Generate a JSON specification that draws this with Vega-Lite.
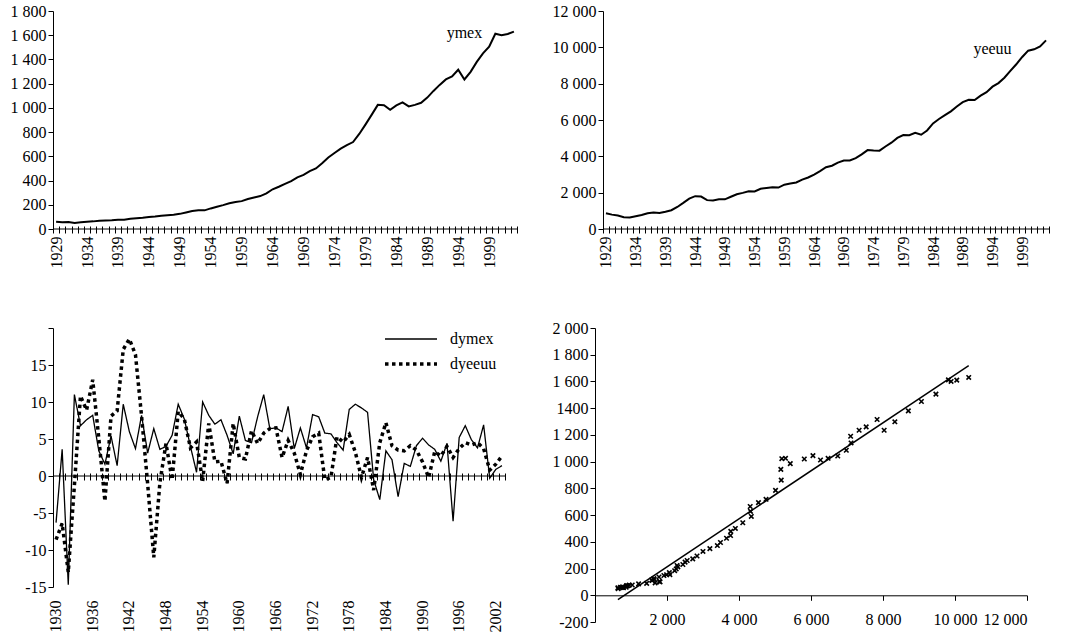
{
  "$schema": "https://vega.github.io/schema/vega-lite/v6.json",
  "background": "white",
  "padding": {"left": 9, "top": 3, "right": 5, "bottom": 5},
  "config": {
    "font": "Liberation Serif",
    "view": {"stroke": null},
    "axis": {"labelFont": "Liberation Serif", "labelFontSize": 16, "labelColor": "black", "domainColor": "black", "tickColor": "black", "grid": false, "domainWidth": 1, "tickWidth": 1, "labelOverlap": false},
    "legend": {"labelFont": "Liberation Serif", "labelFontSize": 16, "labelColor": "black"}
  },
  "datasets": {
    "d": [
      {"year": 1929, "ymex": 60, "yeeuu": 865},
      {"year": 1930, "ymex": 56, "yeeuu": 791, "dymex": -6.3, "dyeeuu": -8.6},
      {"year": 1931, "ymex": 58, "yeeuu": 740, "dymex": 3.6, "dyeeuu": -6.4},
      {"year": 1932, "ymex": 50, "yeeuu": 644, "dymex": -14.7, "dyeeuu": -13.0},
      {"year": 1933, "ymex": 55, "yeeuu": 636, "dymex": 11.0, "dyeeuu": -1.3},
      {"year": 1934, "ymex": 59, "yeeuu": 704, "dymex": 6.8, "dyeeuu": 10.8},
      {"year": 1935, "ymex": 63, "yeeuu": 767, "dymex": 7.6, "dyeeuu": 8.9},
      {"year": 1936, "ymex": 69, "yeeuu": 867, "dymex": 8.2, "dyeeuu": 13.0},
      {"year": 1937, "ymex": 71, "yeeuu": 911, "dymex": 3.4, "dyeeuu": 5.1},
      {"year": 1938, "ymex": 72, "yeeuu": 880, "dymex": 1.6, "dyeeuu": -3.4},
      {"year": 1939, "ymex": 76, "yeeuu": 951, "dymex": 5.4, "dyeeuu": 8.1},
      {"year": 1940, "ymex": 77, "yeeuu": 1034, "dymex": 1.4, "dyeeuu": 8.8},
      {"year": 1941, "ymex": 85, "yeeuu": 1211, "dymex": 9.7, "dyeeuu": 17.1},
      {"year": 1942, "ymex": 89, "yeeuu": 1435, "dymex": 6.0, "dyeeuu": 18.5},
      {"year": 1943, "ymex": 93, "yeeuu": 1671, "dymex": 3.7, "dyeeuu": 16.4},
      {"year": 1944, "ymex": 100, "yeeuu": 1807, "dymex": 8.2, "dyeeuu": 8.1},
      {"year": 1945, "ymex": 103, "yeeuu": 1786, "dymex": 3.1, "dyeeuu": -1.1},
      {"year": 1946, "ymex": 110, "yeeuu": 1589, "dymex": 6.4, "dyeeuu": -11.0},
      {"year": 1947, "ymex": 114, "yeeuu": 1575, "dymex": 3.6, "dyeeuu": -0.9},
      {"year": 1948, "ymex": 118, "yeeuu": 1643, "dymex": 4.0, "dyeeuu": 4.4},
      {"year": 1949, "ymex": 125, "yeeuu": 1635, "dymex": 5.5, "dyeeuu": -0.5},
      {"year": 1950, "ymex": 137, "yeeuu": 1777, "dymex": 9.7, "dyeeuu": 8.7},
      {"year": 1951, "ymex": 148, "yeeuu": 1915, "dymex": 7.7, "dyeeuu": 7.7},
      {"year": 1952, "ymex": 154, "yeeuu": 1988, "dymex": 4.0, "dyeeuu": 3.8},
      {"year": 1953, "ymex": 154, "yeeuu": 2080, "dymex": 0.5, "dyeeuu": 4.6},
      {"year": 1954, "ymex": 170, "yeeuu": 2065, "dymex": 10.0, "dyeeuu": -0.7},
      {"year": 1955, "ymex": 184, "yeeuu": 2213, "dymex": 8.2, "dyeeuu": 7.1},
      {"year": 1956, "ymex": 197, "yeeuu": 2256, "dymex": 7.0, "dyeeuu": 1.9},
      {"year": 1957, "ymex": 212, "yeeuu": 2301, "dymex": 7.6, "dyeeuu": 2.0},
      {"year": 1958, "ymex": 223, "yeeuu": 2279, "dymex": 5.5, "dyeeuu": -1.0},
      {"year": 1959, "ymex": 230, "yeeuu": 2441, "dymex": 3.0, "dyeeuu": 7.1},
      {"year": 1960, "ymex": 248, "yeeuu": 2502, "dymex": 8.1, "dyeeuu": 2.5},
      {"year": 1961, "ymex": 260, "yeeuu": 2560, "dymex": 4.8, "dyeeuu": 2.3},
      {"year": 1962, "ymex": 272, "yeeuu": 2715, "dymex": 4.5, "dyeeuu": 6.1},
      {"year": 1963, "ymex": 294, "yeeuu": 2834, "dymex": 8.0, "dyeeuu": 4.4},
      {"year": 1964, "ymex": 328, "yeeuu": 2999, "dymex": 11.0, "dyeeuu": 5.8},
      {"year": 1965, "ymex": 349, "yeeuu": 3191, "dymex": 6.4, "dyeeuu": 6.4},
      {"year": 1966, "ymex": 372, "yeeuu": 3399, "dymex": 6.5, "dyeeuu": 6.5},
      {"year": 1967, "ymex": 395, "yeeuu": 3485, "dymex": 6.0, "dyeeuu": 2.5},
      {"year": 1968, "ymex": 427, "yeeuu": 3653, "dymex": 9.4, "dyeeuu": 4.8},
      {"year": 1969, "ymex": 447, "yeeuu": 3765, "dymex": 3.7, "dyeeuu": 3.1},
      {"year": 1970, "ymex": 478, "yeeuu": 3772, "dymex": 6.5, "dyeeuu": 0.2},
      {"year": 1971, "ymex": 500, "yeeuu": 3899, "dymex": 3.8, "dyeeuu": 3.4},
      {"year": 1972, "ymex": 543, "yeeuu": 4105, "dymex": 8.3, "dyeeuu": 5.3},
      {"year": 1973, "ymex": 590, "yeeuu": 4342, "dymex": 8.0, "dyeeuu": 5.8},
      {"year": 1974, "ymex": 628, "yeeuu": 4320, "dymex": 5.8, "dyeeuu": -0.5},
      {"year": 1975, "ymex": 664, "yeeuu": 4311, "dymex": 5.7, "dyeeuu": -0.2},
      {"year": 1976, "ymex": 693, "yeeuu": 4541, "dymex": 4.5, "dyeeuu": 5.3},
      {"year": 1977, "ymex": 718, "yeeuu": 4751, "dymex": 3.5, "dyeeuu": 4.6},
      {"year": 1978, "ymex": 785, "yeeuu": 5015, "dymex": 9.0, "dyeeuu": 5.6},
      {"year": 1979, "ymex": 862, "yeeuu": 5173, "dymex": 9.7, "dyeeuu": 3.2},
      {"year": 1980, "ymex": 942, "yeeuu": 5162, "dymex": 9.2, "dyeeuu": -0.2},
      {"year": 1981, "ymex": 1025, "yeeuu": 5292, "dymex": 8.6, "dyeeuu": 2.5},
      {"year": 1982, "ymex": 1022, "yeeuu": 5189, "dymex": -0.5, "dyeeuu": -1.9},
      {"year": 1983, "ymex": 985, "yeeuu": 5424, "dymex": -3.2, "dyeeuu": 4.5},
      {"year": 1984, "ymex": 1020, "yeeuu": 5814, "dymex": 3.4, "dyeeuu": 7.2},
      {"year": 1985, "ymex": 1045, "yeeuu": 6054, "dymex": 2.2, "dyeeuu": 4.1},
      {"year": 1986, "ymex": 1012, "yeeuu": 6264, "dymex": -2.8, "dyeeuu": 3.5},
      {"year": 1987, "ymex": 1025, "yeeuu": 6475, "dymex": 1.7, "dyeeuu": 3.4},
      {"year": 1988, "ymex": 1042, "yeeuu": 6743, "dymex": 1.3, "dyeeuu": 4.1},
      {"year": 1989, "ymex": 1085, "yeeuu": 6981, "dymex": 4.1, "dyeeuu": 3.5},
      {"year": 1990, "ymex": 1140, "yeeuu": 7113, "dymex": 5.1, "dyeeuu": 1.9},
      {"year": 1991, "ymex": 1190, "yeeuu": 7101, "dymex": 4.2, "dyeeuu": -0.2},
      {"year": 1992, "ymex": 1235, "yeeuu": 7337, "dymex": 3.6, "dyeeuu": 3.3},
      {"year": 1993, "ymex": 1260, "yeeuu": 7533, "dymex": 2.0, "dyeeuu": 2.7},
      {"year": 1994, "ymex": 1315, "yeeuu": 7836, "dymex": 4.4, "dyeeuu": 4.0},
      {"year": 1995, "ymex": 1235, "yeeuu": 8032, "dymex": -6.1, "dyeeuu": 2.5},
      {"year": 1996, "ymex": 1298, "yeeuu": 8329, "dymex": 5.2, "dyeeuu": 3.7},
      {"year": 1997, "ymex": 1380, "yeeuu": 8704, "dymex": 6.8, "dyeeuu": 4.5},
      {"year": 1998, "ymex": 1450, "yeeuu": 9067, "dymex": 4.9, "dyeeuu": 4.2},
      {"year": 1999, "ymex": 1505, "yeeuu": 9470, "dymex": 3.8, "dyeeuu": 4.5},
      {"year": 2000, "ymex": 1612, "yeeuu": 9817, "dymex": 6.9, "dyeeuu": 3.7},
      {"year": 2001, "ymex": 1600, "yeeuu": 9891, "dymex": -0.3, "dyeeuu": 0.8},
      {"year": 2002, "ymex": 1610, "yeeuu": 10049, "dymex": 0.9, "dyeeuu": 1.6},
      {"year": 2003, "ymex": 1630, "yeeuu": 10381, "dymex": 1.4, "dyeeuu": 2.7}
    ]
  },
  "spacing": 52,
  "resolve": {"scale": {"color": "independent", "strokeDash": "independent", "strokeWidth": "independent"}},
  "vconcat": [
    {
      "spacing": 86,
      "bounds": "flush",
      "hconcat": [
        {
          "width": 464, "height": 218,
          "layer": [
            {
              "data": {"name": "d"},
              "mark": {"type": "line", "color": "black", "strokeWidth": 2},
              "encoding": {
                "x": {"field": "year", "type": "ordinal", "bandPosition": 0.5,
                  "scale": {"type": "band", "paddingInner": 0, "paddingOuter": 0},
                  "axis": {"title": null, "domain": false, "tickBand": "extent", "offset": -3, "tickSize": 7, "labelAngle": 270, "labelPadding": 3, "labelOverlap": false, "labelExpr": "(datum.value - 1929) % 5 == 0 ? datum.label : ''"}},
                "y": {"field": "ymex", "type": "quantitative",
                  "scale": {"domain": [0, 1800], "nice": false},
                  "axis": {"title": null, "minExtent": 44, "tickCount": 50, "labelOverlap": false, "values": [0, 200, 400, 600, 800, 1000, 1200, 1400, 1600, 1800], "tickSize": 5, "labelExpr": "replace(format(datum.value, ','), ',', ' ')"}}
              }
            },
            {
              "data": {"values": [{}]},
              "mark": {"type": "rule", "color": "black", "strokeWidth": 1},
              "encoding": {"y": {"datum": 0}}
            },
            {
              "data": {"values": [{}]},
              "mark": {"type": "text", "fontSize": 16, "font": "Liberation Serif", "color": "black"},
              "encoding": {
                "x": {"datum": 1995, "type": "ordinal", "bandPosition": 0.5},
                "y": {"datum": 1620},
                "text": {"value": "ymex"}
              }
            }
          ]
        },
        {
          "width": 446, "height": 218,
          "layer": [
            {
              "data": {"name": "d"},
              "mark": {"type": "line", "color": "black", "strokeWidth": 2},
              "encoding": {
                "x": {"field": "year", "type": "ordinal", "bandPosition": 0.5,
                  "scale": {"type": "band", "paddingInner": 0, "paddingOuter": 0},
                  "axis": {"title": null, "domain": false, "tickBand": "extent", "offset": -3, "tickSize": 7, "labelAngle": 270, "labelPadding": 3, "labelOverlap": false, "labelExpr": "(datum.value - 1929) % 5 == 0 ? datum.label : ''"}},
                "y": {"field": "yeeuu", "type": "quantitative",
                  "scale": {"domain": [0, 12000], "nice": false},
                  "axis": {"title": null, "tickCount": 50, "labelOverlap": false, "values": [0, 2000, 4000, 6000, 8000, 10000, 12000], "tickSize": 5, "labelExpr": "replace(format(datum.value, ','), ',', ' ')"}}
              }
            },
            {
              "data": {"values": [{}]},
              "mark": {"type": "rule", "color": "black", "strokeWidth": 1},
              "encoding": {"y": {"datum": 0}}
            },
            {
              "data": {"values": [{}]},
              "mark": {"type": "text", "fontSize": 16, "font": "Liberation Serif", "color": "black"},
              "encoding": {
                "x": {"datum": 1994, "type": "ordinal", "bandPosition": 0.5},
                "y": {"datum": 9900},
                "text": {"value": "yeeuu"}
              }
            }
          ]
        }
      ]
    },
    {
      "spacing": 90,
      "bounds": "flush",
      "resolve": {"scale": {"color": "independent", "strokeDash": "independent", "strokeWidth": "independent"}},
      "hconcat": [
        {
          "width": 452, "height": 259,
          "layer": [
            {
              "data": {"name": "d"},
              "transform": [{"filter": "datum.year >= 1930"}, {"fold": ["dymex", "dyeeuu"], "as": ["series", "value"]}],
              "mark": {"type": "line", "strokeCap": "butt"},
              "encoding": {
                "x": {"field": "year", "type": "ordinal", "bandPosition": 0.5,
                  "scale": {"type": "band", "paddingInner": 0, "paddingOuter": 0},
                  "axis": {"title": null, "orient": "bottom", "domain": false, "ticks": false, "labelAngle": 270, "labelPadding": 13, "labelOverlap": false, "labelExpr": "(datum.value - 1930) % 6 == 0 ? datum.label : ''"}},
                "y": {"field": "value", "type": "quantitative",
                  "scale": {"domain": [-15, 20], "nice": false},
                  "axis": {"title": null, "minExtent": 44, "tickCount": 50, "labelOverlap": false, "values": [-15, -10, -5, 0, 5, 10, 15, 20], "tickSize": 5, "labelExpr": "datum.value == 20 ? '' : '' + datum.value"}},
                "color": {"field": "series", "type": "nominal",
                  "scale": {"domain": ["dymex", "dyeeuu"], "range": ["black", "black"]},
                  "legend": {"title": null, "orient": "none", "legendX": 346, "legendY": 0, "symbolType": "M-2.6,0H2.6", "symbolSize": 400, "symbolStrokeColor": "black", "labelOffset": 27, "rowPadding": 5, "padding": 0}},
                "strokeDash": {"field": "series", "type": "nominal",
                  "scale": {"domain": ["dymex", "dyeeuu"], "range": [[1, 0], [3.5, 3.5]]}},
                "strokeWidth": {"field": "series", "type": "nominal",
                  "scale": {"domain": ["dymex", "dyeeuu"], "range": [1.3, 3.5]}}
              }
            },
            {
              "data": {"name": "d"},
              "transform": [{"filter": "datum.year >= 1930"}],
              "mark": {"type": "line", "opacity": 0},
              "encoding": {
                "x": {"field": "year", "type": "ordinal", "bandPosition": 0.5,
                  "axis": {"title": null, "orient": "bottom", "domain": false, "labels": false, "tickBand": "extent", "offset": -114, "tickSize": 7}},
                "y": {"datum": 0}
              }
            },
            {
              "data": {"values": [{}]},
              "mark": {"type": "rule", "color": "black", "strokeWidth": 1},
              "encoding": {"y": {"datum": 0}}
            }
          ],
          "resolve": {"axis": {"x": "independent"}}
        },
        {
          "width": 432, "height": 294,
          "data": {"name": "d"},
          "layer": [
            {
              "mark": {"type": "point", "shape": "M-1,-1L1,1M-1,1L1,-1", "filled": false, "stroke": "black", "strokeWidth": 1.6, "size": 20, "opacity": 1},
              "encoding": {
                "x": {"field": "yeeuu", "type": "quantitative",
                  "scale": {"domain": [0, 12000], "nice": false},
                  "axis": {"title": null, "orient": "bottom", "tickCount": 50, "labelOverlap": false, "values": [2000, 4000, 6000, 8000, 10000, 12000], "ticks": false, "domain": false, "labelBaseline": "middle", "labelPadding": -3, "labelExpr": "replace(format(datum.value, ','), ',', ' ')"}},
                "y": {"field": "ymex", "type": "quantitative",
                  "scale": {"domain": [-200, 2000], "nice": false},
                  "axis": {"title": null, "tickCount": 50, "labelOverlap": false, "values": [-200, 0, 200, 400, 600, 800, 1000, 1200, 1400, 1600, 1800, 2000], "tickSize": 5, "labelExpr": "datum.value < 0 ? '' + datum.value : (datum.value == 1400 ? '1400' : replace(format(datum.value, ','), ',', ' '))"}}
              }
            },
            {
              "transform": [{"regression": "ymex", "on": "yeeuu"}],
              "mark": {"type": "line", "color": "black", "strokeWidth": 1.5},
              "encoding": {
                "x": {"field": "yeeuu", "type": "quantitative",
                  "axis": {"title": null, "orient": "bottom", "tickCount": 50, "values": [0, 2000, 4000, 6000, 8000, 10000, 12000], "labels": false, "domain": true, "tickSize": 5, "offset": -26.7}},
                "y": {"field": "ymex", "type": "quantitative"}
              }
            }
          ],
          "resolve": {"axis": {"x": "independent"}}
        }
      ]
    }
  ]
}
